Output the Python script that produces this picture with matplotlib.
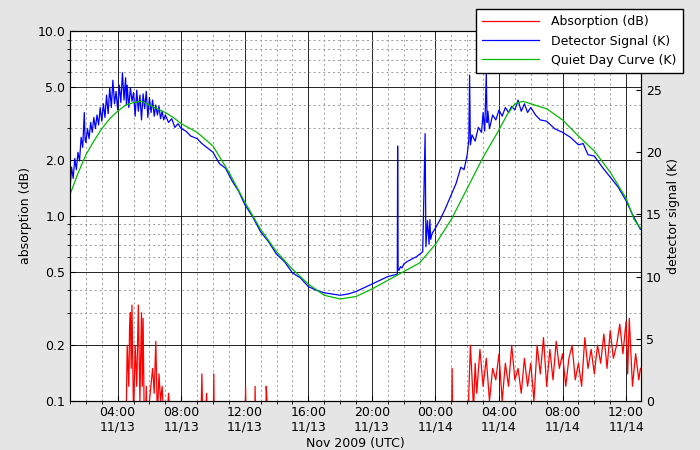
import matplotlib
matplotlib.use("Agg")
import matplotlib.pyplot as plt
from matplotlib.ticker import FixedLocator, NullFormatter, MultipleLocator
import numpy as np

# hours since 2009-11-13 00:00 UTC
t_quiet = [1.0, 1.5, 2.0, 2.5, 3.0, 3.5, 4.0, 4.5, 5.0, 5.5, 6.0, 6.5, 7.0, 7.5, 8.0, 9.0, 10.0, 11.0,
           12.0, 13.0, 14.0, 15.0, 16.0, 17.0, 18.0, 19.0, 20.0, 21.0, 22.0, 23.0, 24.0, 25.0, 26.0,
           27.0, 28.0, 28.5, 29.0, 29.5, 30.0, 31.0, 32.0, 33.0, 34.0, 35.0, 36.0, 36.5, 36.9]
k_quiet = [16.6, 18.3, 19.8, 20.9, 21.9, 22.7, 23.3, 23.8, 24.0, 24.1, 23.8, 23.5, 23.2, 22.8, 22.3, 21.6, 20.5, 18.4,
           16.0, 13.8, 12.0, 10.6, 9.4, 8.5, 8.2, 8.4, 9.0, 9.7, 10.4, 11.1, 12.6, 14.6, 17.1,
           19.6, 21.8, 23.0, 23.9, 24.1, 23.9, 23.5, 22.6, 21.3, 20.1, 18.4, 16.3, 14.6, 13.9]

t_det = [1.0, 1.1, 1.2, 1.3, 1.4, 1.5, 1.6, 1.7, 1.8, 1.9, 1.95, 2.0, 2.1, 2.2, 2.3, 2.4, 2.5, 2.6, 2.7,
         2.8, 2.9, 3.0, 3.1, 3.2, 3.3, 3.4, 3.5, 3.6, 3.7, 3.8, 3.9, 4.0, 4.1, 4.2, 4.3, 4.4, 4.5, 4.55,
         4.6, 4.7, 4.8, 4.9, 5.0, 5.1, 5.2, 5.3, 5.4, 5.5, 5.6, 5.7, 5.8, 5.9, 6.0, 6.1, 6.2, 6.3, 6.4,
         6.5, 6.6, 6.7, 6.8, 6.9, 7.0, 7.2, 7.4, 7.6, 7.8, 8.0, 8.3, 8.6, 9.0, 9.3, 9.6, 10.0, 10.4, 10.8,
         11.2, 11.6, 12.0, 12.5, 13.0, 13.5, 14.0, 14.5, 15.0, 15.5, 16.0, 16.5, 17.0, 17.5, 18.0,
         18.5, 19.0, 19.5, 20.0, 20.5, 21.0, 21.3, 21.6, 21.62, 21.65, 21.7, 21.8, 21.9, 22.0, 22.2,
         22.5, 22.8, 23.0, 23.2, 23.35, 23.4, 23.5, 23.6, 23.65, 23.7, 23.8, 24.0, 24.3, 24.6, 25.0,
         25.3, 25.6, 25.8, 26.0, 26.1, 26.15, 26.2, 26.3, 26.5, 26.7, 26.9, 27.0, 27.1, 27.2, 27.25,
         27.3, 27.4, 27.6, 27.8, 28.0, 28.2, 28.4, 28.6, 28.8, 29.0, 29.2, 29.4, 29.6, 29.8, 30.0, 30.3,
         30.6, 31.0, 31.5, 32.0, 32.5, 33.0, 33.3, 33.6, 34.0, 34.5, 35.0, 35.5, 36.0, 36.4, 36.9]
k_det = [17.0, 18.8, 17.9, 19.5, 18.6, 20.0, 19.3, 21.2, 20.4, 23.2, 21.0, 20.8, 21.9, 21.1, 22.4, 21.6, 22.8, 21.9, 23.0,
         22.2, 23.6, 22.5, 23.9, 22.8, 24.6, 23.1, 25.2, 23.6, 25.8, 23.9, 24.9, 23.4, 25.4, 24.0, 26.4, 24.2, 26.0, 23.8,
         25.4, 23.6, 25.2, 24.1, 24.8, 22.9, 25.0, 23.3, 24.6, 22.6, 24.7, 23.5, 24.9, 22.8, 24.4, 23.2, 24.2, 22.9, 23.8,
         23.0, 23.7, 22.7, 23.3, 22.6, 23.0, 22.4, 22.7, 22.0, 22.3, 21.9, 21.7, 21.3, 21.1, 20.7, 20.4, 20.0, 19.1, 18.7,
         17.7, 16.9, 15.8, 14.8, 13.6, 12.8, 11.8, 11.2, 10.3, 9.9, 9.2, 8.9, 8.7, 8.6, 8.5,
         8.6, 8.8, 9.1, 9.4, 9.7, 10.0, 10.1, 10.2, 20.5, 10.6, 10.5, 10.8, 10.7, 11.0, 11.2,
         11.4, 11.6, 11.8, 12.0, 21.5, 12.4, 14.5, 12.6, 14.6, 13.0, 13.5, 13.9, 14.6, 15.4, 16.6,
         17.5, 18.8, 18.6, 19.8, 21.0, 26.2, 20.6, 21.4, 20.9, 22.0, 21.6, 23.2, 21.7, 26.3, 22.4,
         23.3, 21.9, 23.0, 22.6, 23.4, 22.9, 23.6, 23.2, 23.7, 23.4, 24.2, 23.3, 23.9, 23.2, 23.6, 23.0,
         22.6, 22.5, 21.9, 21.6, 21.2, 20.6, 20.7, 19.8, 19.7, 18.8, 18.0, 17.2, 16.1, 15.0, 13.8]

t_abs = [1.0, 4.5, 4.6, 4.7, 4.75, 4.8, 4.85, 4.9, 5.0, 5.1, 5.2, 5.3, 5.4, 5.5, 5.55, 5.6, 5.7, 5.8,
         5.9, 6.0, 6.2, 6.3, 6.4, 6.5, 6.6, 6.7, 6.8, 7.0, 7.2, 7.5, 9.2, 9.3, 9.4, 9.6, 9.7, 10.0,
         10.05, 10.1, 12.0, 12.05, 12.1, 12.6, 12.65, 12.7, 13.3, 13.35, 13.4, 13.5, 25.0, 25.05, 25.1,
         26.0, 26.1, 26.2, 26.4, 26.5, 26.6, 26.8, 27.0, 27.2, 27.4, 27.6, 27.8, 28.0, 28.2, 28.4,
         28.6, 28.8, 29.0, 29.2, 29.4, 29.6, 29.8, 30.0, 30.2, 30.4, 30.6, 30.8, 31.0, 31.2, 31.4,
         31.6, 31.8, 32.0, 32.2, 32.4, 32.6, 32.8, 33.0, 33.2, 33.4, 33.6, 33.8, 34.0, 34.2, 34.4,
         34.6, 34.8, 35.0, 35.2, 35.4, 35.6, 35.8, 36.0, 36.1, 36.2, 36.4, 36.6, 36.8, 36.9]
db_abs = [0.05, 0.05, 0.2, 0.12, 0.25, 0.3, 0.15, 0.33, 0.08, 0.2, 0.12, 0.33, 0.1, 0.3, 0.12, 0.28, 0.05, 0.12,
          0.05, 0.1, 0.15, 0.11, 0.21, 0.08, 0.14, 0.1, 0.12, 0.05, 0.11, 0.05, 0.05, 0.14, 0.05, 0.11, 0.05, 0.05,
          0.14, 0.05, 0.05, 0.12, 0.05, 0.05, 0.12, 0.05, 0.05, 0.12, 0.1, 0.05, 0.05, 0.15, 0.05,
          0.05, 0.11, 0.2, 0.09, 0.16, 0.11, 0.19, 0.12, 0.17, 0.1, 0.15, 0.13, 0.18, 0.1, 0.16,
          0.12, 0.2, 0.13, 0.15, 0.11, 0.17, 0.12, 0.16, 0.1, 0.2, 0.14, 0.22, 0.12, 0.19, 0.13,
          0.21, 0.15, 0.18, 0.12, 0.17, 0.2, 0.13, 0.16, 0.12, 0.22, 0.15, 0.19, 0.14, 0.2, 0.16,
          0.23, 0.15, 0.24, 0.17, 0.2, 0.26, 0.18, 0.27, 0.14, 0.28, 0.12, 0.18, 0.13, 0.15]

x_ticks = [4, 8, 12, 16, 20, 24, 28, 32, 36]
x_labels = ["04:00\n11/13", "08:00\n11/13", "12:00\n11/13", "16:00\n11/13", "20:00\n11/13",
            "00:00\n11/14", "04:00\n11/14", "08:00\n11/14", "12:00\n11/14"]
y_ticks = [0.1, 0.2, 0.5, 1.0, 2.0, 5.0, 10.0]

fig = plt.figure(figsize=(7, 4.5), dpi=100, facecolor="#e5e5e5")
ax = fig.add_axes([0.1, 0.109, 0.816, 0.822])
ax2 = ax.twinx()

ax.set_yscale("log")
ax.set_ylim(0.1, 10)
ax.set_xlim(1.0, 36.95)
ax.yaxis.set_major_locator(FixedLocator(y_ticks))
ax.set_yticklabels([f"{v:.1f}" for v in y_ticks])
minors = [m * d for d in (0.1, 1.0) for m in range(2, 10)]
ax.yaxis.set_minor_locator(FixedLocator(minors))
ax.yaxis.set_minor_formatter(NullFormatter())
ax.set_xticks(x_ticks)
ax.set_xticklabels(x_labels)
ax.xaxis.set_minor_locator(MultipleLocator(1))
ax.grid(which="minor", color="#999999", linestyle=(0, (2, 3)), linewidth=0.7)
ax.grid(which="major", color="black", linestyle="-", linewidth=0.6)
ax.set_axisbelow(True)

ax.plot(t_abs, db_abs, color="red", linewidth=0.9, label="Absorption (dB)")
ax2.plot(t_det, k_det, color="blue", linewidth=0.9, label="Detector Signal (K)")
ax2.plot(t_quiet, k_quiet, color="#00bb00", linewidth=0.9, label="Quiet Day Curve (K)")
ax2.set_ylim(0, 29.75)
ax2.set_yticks([0, 5, 10, 15, 20, 25])

ax.set_ylabel("absorption (dB)", fontsize=9)
ax2.set_ylabel("detector signal (K)", fontsize=9)
ax.set_xlabel("Nov 2009 (UTC)", fontsize=9, labelpad=2)
for a in (ax, ax2):
    a.tick_params(labelsize=9, direction="in")

h1, l1 = ax.get_legend_handles_labels()
h2, l2 = ax2.get_legend_handles_labels()
fig.legend(h1 + h2, l1 + l2, loc="upper left", bbox_to_anchor=(0.68, 0.98), borderaxespad=0,
           fontsize=9, fancybox=False, edgecolor="black", framealpha=1, handlelength=4.5,
           borderpad=0.5, handletextpad=1.0)

fig.savefig("out.png", dpi=100, facecolor=fig.get_facecolor())
